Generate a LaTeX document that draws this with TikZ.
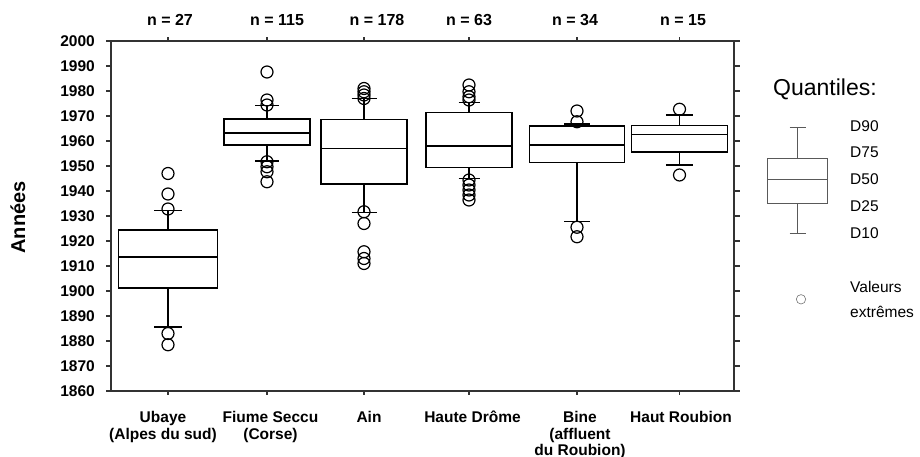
\documentclass[tikz,border=0pt]{standalone}
\usepackage{fontspec}
\setmainfont{Liberation Sans}

\begin{document}
\begin{tikzpicture}[
	x = 1pt, y = -1pt,
	frame/.style = {draw=black!80, line width=1.1pt},
	boxline/.style = {draw=black, line width=1.3pt},
	outlier/.style = {draw=black, line width=1.2pt},
	ticklabel/.style = {font=\fontsize{15.5}{18}\selectfont\bfseries, inner sep=0pt, anchor=east},
	countlabel/.style = {font=\fontsize{16}{18}\selectfont\bfseries, inner sep=0pt, anchor=base},
	rivername/.style = {font=\fontsize{15.5}{16.5}\selectfont\bfseries, inner sep=0pt, align=center, anchor=base},
	keyline/.style = {draw=black!65, line width=0.8pt},
	keytext/.style = {font=\fontsize{15.5}{18}\selectfont, inner sep=0pt, anchor=west}
	]
	\useasboundingbox (0,0) rectangle (920,457);
	\foreach \i/\x/\n in {1/170/27, 2/277/115, 3/377/178, 4/469/63, 5/575/34, 6/683/15}
		\node [countlabel] (n\i) at (\x,25.7) {n = \n};
	\node [rivername] (r1) at (163,439) {Ubaye\\(Alpes du sud)};
	\node [rivername] (r2) at (270.5,439) {Fiume Seccu\\(Corse)};
	\node [rivername] (r3) at (369,422.5) {Ain};
	\node [rivername] (r4) at (472.5,422.5) {Haute Drôme};
	\node [rivername] (r5) at (580,455.5) {Bine\\(affluent\\du Roubion)};
	\node [rivername] (r6) at (681,422.5) {Haut Roubion};
	\node [font=\fontsize{20}{22}\selectfont\bfseries, rotate=90, inner sep=0pt] (axe) at (18,217.5) {Années};
	\begin{scope}[shift={(0,5041)}, y=2.5pt]
		\draw [frame] (111,1860) rectangle (734,2000);
		\foreach \y in {1860,1870,...,2000} {
			\draw [frame] (106,\y) -- (111,\y) (734,\y) -- (740,\y);
			\node [ticklabel] (t\y) at (95,\y) {\y};
		}
		\foreach \x in {168,267,364,469,577,679.5}
			\draw [frame] (\x,2000) -- ++(0,1.6) (\x,1860) -- ++(0,-1.6);
		\foreach \cx/\hw/\cw/\lo/\qa/\md/\qb/\hi/\outs in {
			168/49.5/14/1885.6/1901.2/1913.6/1924.4/1932.1/{1947,1938.8,1932.8,1883,1878.5},
			267/43/12/1952/1958.4/1963.2/1968.8/1974.1/{1987.6,1976.4,1974.4,1951.7,1949.7,1947.7,1943.7},
			364/43/12.5/1931.5/1942.8/1957.1/1968.7/1977/{1981,1979.7,1978.4,1977,1931.7,1927,1915.7,1913,1911},
			469/43/10.5/1945.1/1949.5/1958/1971.5/1975.5/{1982.4,1979.7,1977.7,1976.4,1944.4,1942.4,1940.4,1938.4,1936.4},
			577/47.5/13/1927.7/1951.5/1958.4/1966/1966.8/{1972,1967.7,1925.5,1921.7},
			679.5/48/13.7/1950.4/1955.6/1962.7/1966.3/1970.4/{1972.7,1946.4}} {
			\draw [boxline] (\cx-\hw,\qa) rectangle (\cx+\hw,\qb) (\cx-\hw,\md) -- (\cx+\hw,\md)
				(\cx,\qb) -- (\cx,\hi) (\cx-\cw,\hi) -- (\cx+\cw,\hi)
				(\cx,\qa) -- (\cx,\lo) (\cx-\cw,\lo) -- (\cx+\cw,\lo);
			\foreach \o in \outs
				\draw [outlier] (\cx,\o) circle [radius=6pt];
		}
	\end{scope}
	\node [font=\fontsize{23}{26}\selectfont, inner sep=0pt] (key) at (825,89) {Quantiles:};
	\draw [keyline] (767.5,158.7) rectangle (827.7,203.3) (767.5,179) -- (827.7,179)
		(797.5,158.7) -- (797.5,127) (789.5,127) -- (805.5,127)
		(797.5,203.3) -- (797.5,233.3) (789.5,233.3) -- (805.5,233.3);
	\foreach \d/\y in {90/126.5, 75/152.5, 50/179.3, 25/206, 10/232.7}
		\node [keytext] (d\d) at (850,\y) {D\d};
	\draw [draw=black!55, line width=0.6pt] (801,299.3) circle [radius=4.7pt];
	\node [keytext] (v1) at (850,286.7) {Valeurs};
	\node [keytext] (v2) at (850,312.3) {extrêmes};
\end{tikzpicture}
\end{document}
